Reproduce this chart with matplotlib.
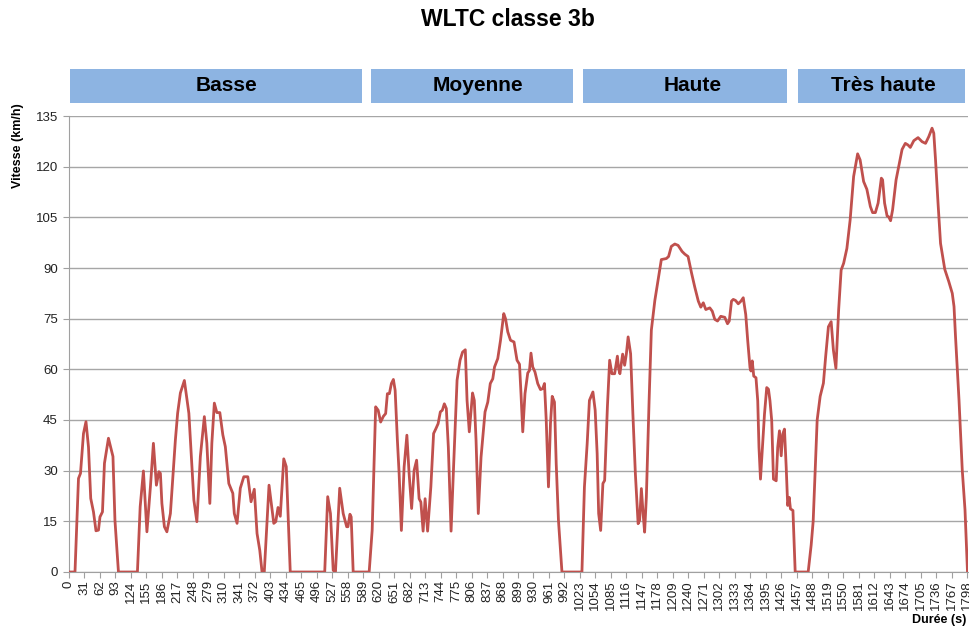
import numpy as np
import matplotlib.pyplot as plt
import matplotlib.transforms as mtransforms
from matplotlib.patches import Rectangle

plt.rcParams['font.family'] = ['Liberation Sans', 'DejaVu Sans']

# speed profile, per phase (time in s, speed in km/h)
time_low = [0, 12, 19, 23, 29, 34, 39, 43.5, 49, 54, 59, 62, 67, 71, 79, 84, 88, 92, 99, 137,
            142.5, 149, 156, 163, 169, 175, 180, 183, 186, 191, 196, 203, 213, 217.5, 223, 231,
            240, 250, 256, 263, 271, 276, 282, 286, 291, 296, 302, 308, 313, 320, 328, 331,
            336.5, 343, 350, 358, 364.5, 371, 376.5, 382, 386.5, 391, 400.5, 410, 414, 418.5,
            423, 430, 435, 443, 512, 518, 523.5, 529, 533.5, 542, 549, 556, 558.5, 562.5, 565,
            569, 601]
speed_low = [0, 0, 27.7, 29.2, 41, 44.5, 37, 21.8, 17.8, 12.2, 12.4, 16.3, 17.8, 32.2, 39.6,
             36.6, 34.2, 15.3, 0, 0, 19.3, 29.9, 11.9, 25.2, 38.1, 25.7, 29.7, 29.2, 20.3, 13.4,
             11.9, 17.3, 39.1, 47, 53, 56.7, 47, 21.3, 14.9, 34.2, 46, 38.1, 20.3, 38.1, 50, 47.2,
             47.2, 40.6, 37.1, 26.2, 23.3, 17.3, 14.4, 24.8, 28.2, 28.2, 20.8, 24.5, 11.4, 6.4,
             0, 0, 25.7, 14.4, 14.9, 19.1, 16.5, 33.5, 31.2, 0, 0, 22.3, 17.3, 0.5, 0, 24.8,
             17.3, 13.4, 13.4, 17.1, 16.3, 0, 0]

time_mid = [607, 614, 619, 624, 629.5, 634, 637.5, 641.5, 645.5, 649.5, 653, 657.5, 661, 665.5,
            671, 676.5, 681, 686, 691, 696, 701, 704.5, 709, 713, 718, 724.5, 730, 734.5, 739,
            743.5, 747.5, 751.5, 755.5, 759.5, 765, 770, 777, 783, 788, 793.5, 797, 801.5, 808,
            811.5, 815, 819.5, 825, 833, 838.5, 843.5, 848.5, 852, 858.5, 864, 870.5, 874,
            878.5, 884, 891, 897, 902, 905, 908.5, 913, 918.5, 922, 925, 928.5, 933, 938.5, 944,
            948.5, 952, 955.5, 960, 964, 967.5, 972, 975.5, 980, 987, 1027]
speed_mid = [12.3, 48.9, 47.9, 44.4, 46.1, 46.9, 52.8, 52.8, 55.8, 57, 53.8, 39, 29.1, 12.3,
             31.1, 40.5, 29.1, 18.8, 30.1, 33.1, 21.7, 20.7, 12.1, 21.7, 12.1, 25.2, 41, 42.4,
             43.9, 47.4, 47.9, 49.8, 48.4, 37, 12.1, 31.1, 56.8, 62.7, 65.1, 65.8, 50.8, 41.5,
             53, 50.8, 39, 17.3, 34, 47.4, 50.3, 55.8, 57.2, 60.7, 63.2, 68.6, 76.5, 75, 71.1,
             68.6, 68.1, 62.7, 61.5, 52.8, 41.5, 52.8, 58.9, 59.7, 64.8, 60.7, 59.2, 55.8, 54,
             54.3, 55.8, 45, 25.2, 43.9, 52, 50.3, 32.1, 15.3, 0, 0]

time_high = [1032, 1037.5, 1042, 1049, 1053.5, 1057.5, 1060.5, 1064.5, 1069, 1072.5, 1078,
             1082.5, 1087, 1092.5, 1098, 1100.5, 1103, 1108.5, 1112.5, 1116, 1119.5, 1124.5,
             1129, 1134, 1139.5, 1142.5, 1146, 1149.5, 1152.5, 1156, 1161.5, 1166, 1173, 1179.5,
             1186, 1196, 1200.5, 1206, 1213, 1219.5, 1227.5, 1233, 1239.5, 1246.5, 1253, 1260,
             1265, 1270, 1275, 1283, 1288, 1293, 1298.5, 1305, 1313, 1318.5, 1322, 1326.5, 1330,
             1334.5, 1340, 1345.5, 1350, 1355, 1359, 1363.5, 1365.5, 1368, 1371, 1375.5, 1379,
             1381.5, 1384.5, 1388.5, 1392.5, 1397, 1400.5, 1403.5, 1407, 1410.5, 1416, 1419,
             1422.5, 1426, 1429, 1432.5, 1436, 1439, 1442, 1444.5, 1449.5, 1454, 1480]
speed_high = [25.2, 38, 50.8, 53.3, 47.9, 35, 17.3, 12.3, 26.2, 27.1, 48.9, 62.7, 58.7, 58.7,
              63.9, 60.2, 58.7, 64.5, 61.2, 64.6, 69.6, 64.6, 46.9, 29.1, 14.3, 15.3, 24.7, 17.3,
              11.8, 22.2, 50.8, 71.6, 80.4, 86.4, 92.5, 92.8, 93.4, 96.4, 97.1, 96.7, 94.9, 94.1,
              93.4, 88.5, 84.3, 80.2, 78.4, 79.7, 77.7, 78.2, 77.2, 74.8, 74.3, 75.7, 75.4, 73.5,
              74.3, 80.2, 80.7, 80.4, 79.4, 80.2, 81.2, 76.2, 68.4, 60.5, 59.5, 62.5, 58, 57.5,
              50.7, 36.9, 27.5, 36.9, 46.7, 54.6, 54.1, 50.7, 44.8, 27.5, 27, 36.9, 41.8, 34.4,
              40.8, 42.3, 31, 19.7, 22.1, 18.7, 18.2, 0, 0]

time_xhigh = [1486, 1490, 1494, 1498, 1504, 1510.5, 1515, 1520.5, 1526, 1530.5, 1535.5, 1541,
              1546, 1551, 1557.5, 1564, 1571, 1579, 1584, 1591, 1597.5, 1604.5, 1609, 1614.5,
              1620, 1626.5, 1629, 1633, 1638, 1641, 1645, 1649, 1656, 1662.5, 1668, 1674.5, 1680,
              1684.5, 1691.5, 1700, 1708, 1715, 1721.5, 1728, 1731.5, 1735, 1740, 1745, 1753.5,
              1761.5, 1768.5, 1772, 1775, 1782, 1788.5, 1794, 1799]
speed_xhigh = [8, 15, 30, 45, 52, 55.9, 63.8, 72.6, 74.1, 65.7, 60.3, 77.6, 89.4, 91.4, 95.8,
               104.2, 117.1, 123.8, 122, 115.6, 113.3, 108.2, 106.4, 106.4, 109.2, 116.6, 116.1,
               109.2, 105.4, 105.2, 104, 107.2, 116.1, 121, 125.1, 126.9, 126.4, 125.7, 127.7,
               128.6, 127.4, 126.9, 128.9, 131.4, 129.9, 122, 109.2, 97.3, 89.6, 86, 82.5, 78.6,
               69.7, 50.9, 30.2, 18.4, 0]

phases = ["Basse", "Moyenne", "Haute", "Très haute"]
# header box spans and label centres (s), as drawn above the plot
phase_spans = [(2, 586), (604, 1009), (1029, 1437), (1459, 1794)]
phase_label_x = [315, 819, 1248, 1630]

x_ticks = list(range(0, 1799, 31))
y_ticks = list(range(0, 136, 15))

t = np.array(time_low + time_mid + time_high + time_xhigh)
v = np.array(speed_low + speed_mid + speed_high + speed_xhigh)

fig = plt.figure(figsize=(9.69, 6.28), dpi=100)
ax = fig.add_axes([69 / 969, 56 / 628, 899 / 969, 456 / 628])

ax.plot(t, v, color='#C0504D', lw=2, solid_joinstyle='round', zorder=3)

ax.set_xlim(0, 1800)
ax.set_ylim(0, 135)
ax.set_yticks(y_ticks)
ax.set_xticks(x_ticks)
ax.set_xticklabels([str(x) for x in x_ticks], rotation=90)
ax.tick_params(axis='both', labelsize=9.5, colors='#222222', length=4, width=0.8)
ax.tick_params(axis='both', color='#A0A0A0')
ax.tick_params(axis='x', pad=2)
ax.tick_params(axis='y', pad=4)
ax.yaxis.grid(True, color='#A6A6A6', lw=1)
ax.set_axisbelow(True)
for s in ['top', 'right']:
    ax.spines[s].set_visible(False)
for s in ['left', 'bottom']:
    ax.spines[s].set_color('#A0A0A0')

# phase header boxes
trans = mtransforms.blended_transform_factory(ax.transData, ax.transAxes)
for name, (a, b), xc in zip(phases, phase_spans, phase_label_x):
    ax.add_patch(Rectangle((a, 1.0285), b - a, 0.0745, transform=trans,
                           facecolor='#8DB4E2', edgecolor='none', clip_on=False))
    ax.text(xc, 1.066, name, transform=trans, ha='center', va='center',
            fontsize=15, fontweight='bold', color='black')

fig.text(508 / 969, 1 - 20 / 628, "WLTC classe 3b", ha='center', va='center',
         fontsize=16.5, fontweight='bold')
fig.text(18 / 969, 1 - 146 / 628, "Vitesse (km/h)", rotation=90, ha='center', va='center',
         fontsize=9, fontweight='bold')
fig.text(912 / 969, 1 - 620 / 628, "Durée (s)", ha='left', va='center',
         fontsize=9, fontweight='bold')

fig.savefig('out.png', dpi=100)
